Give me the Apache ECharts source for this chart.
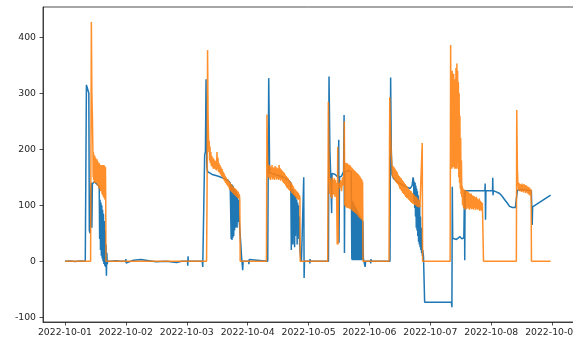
<!DOCTYPE html>
<html>
<head>
<meta charset="utf-8">
<script src="https://cdn.jsdelivr.net/npm/echarts@6/dist/echarts.min.js"></script>
<style>
  html, body { margin: 0; padding: 0; background: #fff; }
  #chart { width: 573px; height: 340px; }
</style>
</head>
<body>
<div id="chart"></div>
<script>
// Day labels on the x axis; x values are hours since 2022-10-01 00:00.
const dayLabels = ['2022-10-01', '2022-10-02', '2022-10-03', '2022-10-04', '2022-10-05',
                   '2022-10-06', '2022-10-07', '2022-10-08', '2022-10-09'];
const yTicks = [-100, 0, 100, 200, 300, 400];

// First signal: [hour, value]
const blueSeries = [
  [0,0],[2,0.5],[4,-0.5],[6,0.5],[8.0,0],[8.25,2],[8.45,315],[8.9,308],[9.4,300],[9.6,55],[9.9,50],
  [10.2,130],[10.45,140],[10.6,60],[10.8,138],[11.5,142],[12.5,138],[13.3,135],[13.5,130],
  [13.67,40],[13.83,110],[14.0,20],[14.17,105],[14.33,10],[14.5,100],[14.67,5],[14.83,92],[15.0,0],
  [15.17,85],[15.33,-5],[15.5,72],[15.67,-8],[15.83,55],[16.0,-10],[16.17,30],[16.33,-26],[16.5,15],
  [16.67,-5],[16.83,0],
  [18,0],[20,1],[22,0],[23.9,0],[24.0,4],[24.1,-3],[24.2,0],[27,2],[30,3],[33,1],[36,-1],[40,0],
  [44,-2],[46,0],[48.3,0],[48.4,-8],[48.5,9],[48.6,0],[52,0],[54.1,0],
  [54.3,-10],[54.9,-10],[55.05,190],[55.35,195],[55.6,325],[55.9,170],[56.2,160],[56.7,157],[58,155],
  [59.5,153],[61,151],[62.5,148],[64.2,145],[65.1,140],
  [65.3,140],[65.5,40],[65.67,138],[65.83,38],[66.0,136],[66.17,42],[66.33,134],[66.5,45],[66.67,130],
  [66.83,55],[67.0,128],[67.17,60],[67.33,125],[67.5,62],[67.67,122],[67.83,60],[68.0,118],[68.17,70],
  [68.33,110],[68.5,85],[69.0,50],[69.3,30],[69.6,8],[69.9,5],[70.05,-16],[70.2,0],
  [72.4,0],[72.5,-5],[72.6,3],[72.7,0],[79.9,0],
  [80.15,0],[80.3,327],[80.5,240],[80.65,158],[81,158],[82,156],[83,155],[84,153],[85,152],[86,150],
  [87,148],[88,145],[89,140],[89.2,20],[89.35,130],[89.5,40],[89.67,128],[89.83,30],[90.0,125],
  [90.17,50],[90.33,120],[90.5,25],[90.67,118],[90.83,45],[91.0,115],[91.17,55],[91.33,110],[91.5,30],
  [91.67,105],[91.83,50],[92.0,100],[92.17,40],[92.33,80],[92.5,30],[92.8,10],[93.2,0],[93.9,0],
  [94.1,150],[94.25,-30],[94.4,0],
  [96.4,0],[96.5,-4],[96.6,4],[96.7,0],[103.85,0],
  [104.06,330],[104.4,200],[104.7,157],[105.0,155],[105.1,86],[105.25,157],[105.6,158],[106,157],
  [106.5,155],[107,155],[107.6,150],[107.9,217],[108.0,33],[108.2,150],[109,152],[109.8,160],
  [110.0,261],[110.15,15],[110.3,160],[111,163],[112,162],[112.8,160],
  [112.9,110],[113.05,3],[113.2,108],[113.35,2],[113.5,106],[113.65,3],[113.8,104],[113.95,2],
  [114.1,100],[114.25,3],[114.4,98],[114.55,2],[114.7,95],[114.85,3],[115.0,92],[115.15,2],[115.3,90],
  [115.45,3],[115.6,86],[115.75,2],[115.9,83],[116.05,3],[116.2,80],[116.35,2],[116.5,78],[116.65,3],
  [116.8,76],[116.95,2],[117.1,74],[117.25,3],[117.4,72],[117.6,5],[118.0,3],[118.3,-10],[118.5,0],
  [120.4,0],[120.5,-4],[120.6,4],[120.7,0],[128.1,0],
  [128.35,328],[128.6,200],[128.9,155],[129.5,148],[130,146],[131,142],[132,139],[133,136],[134,134],
  [135,132],[136,130],[136.8,135],[137.2,150],[137.4,145],[137.55,105],[137.7,142],[137.85,95],
  [138.0,140],[138.15,80],[138.3,135],[138.45,60],[138.6,130],[138.75,55],[138.9,125],[139.05,45],
  [139.2,118],[139.35,35],[139.5,110],[139.65,30],[139.8,100],[139.95,25],[140.1,80],[140.25,20],
  [140.4,60],[140.55,15],[140.7,40],[140.85,10],[141.0,20],[141.3,8],[141.6,5],[141.75,-73],
  [145,-73],[150,-73],[152.3,-73],[152.5,-82],[152.65,133],[152.8,41],[153.5,43],[154.3,39],[155,42],
  [155.7,44],[156.4,40],[157.2,42],[157.45,127],[157.55,2],[157.7,126],[160,126],[163,126],[165.5,126],
  [165.6,139],[165.75,74],[165.9,126],[168.5,126],[168.6,149],[168.7,118],[168.85,126],[170,124],
  [171.3,121],[172.3,116],[173.3,110],[174.3,104],[175.2,98],[176.4,96],[177.5,96],[178.0,98],
  [178.3,127],[180,128],[182,127],[183.8,126],[184.0,124],[184.15,65],[184.3,97],[191.4,118]
];

// Second signal: [hour, value]
const orangeSeries = [
  [0,0],[10.1,0],[10.4,427],[10.6,300],[10.8,260],[11.0,200],[11.1,150],[11.2,195],[11.3,145],
  [11.45,190],[11.6,140],[11.75,188],[11.9,150],[12.05,185],[12.2,140],[12.35,180],[12.5,145],
  [12.65,182],[12.8,135],[12.95,178],[13.1,140],[13.25,176],[13.4,130],[13.55,175],[13.7,135],
  [13.85,172],[14.0,125],[14.15,172],[14.3,128],[14.45,170],[14.6,120],[14.75,172],[14.9,118],
  [15.05,170],[15.2,115],[15.35,172],[15.5,112],[15.65,170],[15.8,110],[15.95,168],[16.05,120],
  [16.15,0],
  [55.8,0],[56.0,120],[56.2,377],[56.4,260],[56.55,230],[56.7,195],[56.85,215],[57.0,180],[57.15,205],
  [57.3,175],[57.5,195],[57.7,170],[57.9,188],[58.1,168],[58.3,185],[58.5,165],[58.7,182],[58.9,166],
  [59.1,180],[59.3,164],[59.5,178],[59.7,162],[59.9,195],[60.1,165],[60.3,185],[60.5,160],[60.7,175],
  [60.9,158],[61.1,172],[61.3,155],[61.5,168],[61.7,152],[61.9,165],[62.1,150],[62.3,160],[62.5,146],
  [62.7,157],[62.9,143],[63.1,153],[63.3,140],[63.5,150],[63.7,137],[63.9,147],[64.1,135],[64.3,145],
  [64.5,132],[64.7,143],[64.9,128],[65.1,140],[65.3,126],[65.5,138],[65.7,124],[65.9,135],[66.1,122],
  [66.3,133],[66.5,120],[66.7,131],[66.9,118],[67.1,130],[67.3,116],[67.5,128],[67.7,115],[67.9,126],
  [68.1,113],[68.3,124],[68.5,112],[68.7,120],[68.9,110],[69.05,0],
  [79.4,0],[79.6,262],[79.8,190],[80.0,168],[80.2,150],[80.4,172],[80.6,148],[80.8,170],[81.0,145],
  [81.2,168],[81.4,150],[81.6,172],[81.8,146],[82.0,168],[82.2,148],[82.4,166],[82.6,145],[82.8,170],
  [83.0,150],[83.2,168],[83.4,146],[83.6,165],[83.8,148],[84.0,167],[84.2,145],[84.4,172],[84.6,147],
  [84.8,166],[85.0,144],[85.2,164],[85.4,146],[85.6,162],[85.8,142],[86.0,160],[86.2,140],[86.4,158],
  [86.6,138],[86.8,155],[87.0,135],[87.2,152],[87.4,132],[87.6,150],[87.8,130],[88.0,148],[88.2,128],
  [88.4,145],[88.6,126],[88.8,142],[89.0,125],[89.2,140],[89.4,122],[89.6,137],[89.8,120],[90.0,134],
  [90.2,118],[90.4,130],[90.6,116],[90.8,128],[91.0,114],[91.2,126],[91.4,112],[91.6,124],[91.8,110],
  [92.0,122],[92.2,110],[92.4,118],[92.6,112],[92.7,0],
  [103.55,0],[103.8,285],[104.0,200],[104.2,150],[104.4,120],[104.6,148],[104.8,115],[105.0,145],
  [105.2,112],[105.4,150],[105.6,118],[105.8,145],[106.0,120],[106.2,148],[106.4,115],[106.6,145],
  [106.8,120],[107.0,140],[107.3,30],[107.5,204],[107.65,30],[107.8,140],[108.2,130],[108.6,145],
  [109.0,125],[109.4,150],[109.8,135],[110.1,250],[110.25,100],[110.4,175],[110.55,98],[110.7,176],
  [110.85,96],[111.0,174],[111.15,97],[111.3,175],[111.45,95],[111.6,172],[111.75,96],[111.9,173],
  [112.05,94],[112.2,170],[112.35,95],[112.5,171],[112.65,93],[112.8,168],[112.95,94],[113.1,167],
  [113.25,90],[113.4,165],[113.55,91],[113.7,164],[113.85,88],[114.0,162],[114.15,88],[114.3,161],
  [114.45,86],[114.6,160],[114.75,85],[114.9,158],[115.05,84],[115.2,157],[115.35,82],[115.5,156],
  [115.65,80],[115.8,154],[115.95,79],[116.1,152],[116.25,77],[116.4,150],[116.55,76],[116.7,148],
  [116.85,74],[117.0,146],[117.15,74],[117.3,142],[117.45,0],
  [127.7,0],[128.0,293],[128.3,230],[128.6,190],[128.9,169],[129.1,150],[129.3,170],[129.5,148],
  [129.7,168],[129.9,145],[130.1,165],[130.3,142],[130.5,162],[130.7,140],[130.9,160],[131.1,138],
  [131.3,155],[131.5,135],[131.7,152],[131.9,130],[132.1,150],[132.3,128],[132.5,148],[132.7,125],
  [132.9,145],[133.1,122],[133.3,143],[133.5,120],[133.7,140],[133.9,118],[134.1,138],[134.3,115],
  [134.5,135],[134.7,113],[134.9,133],[135.1,112],[135.3,130],[135.5,110],[135.7,128],[135.9,108],
  [136.1,126],[136.3,106],[136.5,125],[136.7,104],[136.9,122],[137.1,103],[137.3,120],[137.5,102],
  [137.7,118],[137.9,100],[138.1,116],[138.3,100],[138.5,115],[138.7,98],[138.9,112],[139.1,97],
  [139.3,110],[139.5,96],[139.7,105],[139.9,97],[140.1,100],[140.6,97],[140.8,211],[140.95,0],
  [151.8,0],[152.0,386],[152.15,200],[152.3,336],[152.45,165],[152.6,340],[152.75,170],[152.9,330],
  [153.05,168],[153.2,335],[153.35,175],[153.5,325],[153.65,165],[153.8,320],[153.95,170],[154.1,345],
  [154.25,165],[154.45,353],[154.6,175],[154.75,340],[154.9,165],[155.05,320],[155.2,150],[155.35,300],
  [155.5,140],[155.65,260],[155.8,130],[155.95,220],[156.1,120],[156.25,180],[156.4,115],[156.55,135],
  [156.7,100],[156.9,130],[157.1,95],[157.3,128],[157.5,92],[157.7,127],[157.9,95],[158.1,125],
  [158.3,93],[158.5,126],[158.7,96],[158.9,124],[159.1,94],[159.3,122],[159.5,92],[159.7,120],
  [159.9,95],[160.1,121],[160.3,93],[160.5,118],[160.7,94],[160.9,117],[161.1,92],[161.3,116],
  [161.5,95],[161.7,114],[161.9,92],[162.1,115],[162.3,94],[162.5,112],[162.7,92],[162.9,110],
  [163.1,93],[163.3,112],[163.5,90],[163.7,108],[163.9,92],[164.1,106],[164.3,90],[164.5,104],
  [164.8,104],[164.95,0],
  [177.9,0],[178.05,270],[178.3,166],[178.5,140],[178.7,128],[178.9,140],[179.1,125],[179.3,138],
  [179.5,126],[179.7,137],[179.9,124],[180.1,139],[180.3,125],[180.5,136],[180.7,123],[180.9,138],
  [181.1,126],[181.3,135],[181.5,122],[181.7,136],[181.9,124],[182.1,134],[182.3,121],[182.5,133],
  [182.7,120],[182.9,132],[183.1,118],[183.3,130],[183.5,117],[183.7,128],[183.85,0],[191.4,0]
];

const dayTicks = dayLabels.map((_, i) => i * 24);
const font = { fontFamily: 'DejaVu Sans', fontSize: 9.3, color: '#262626' };

const chart = echarts.init(document.getElementById('chart'), null, { renderer: 'canvas' });
chart.setOption({
  animation: false,
  backgroundColor: '#ffffff',
  grid: {
    left: 43, top: 7, width: 533.5, height: 315,
    show: true, borderColor: '#222', borderWidth: 0.8,
    containLabel: false, outerBoundsMode: 'none'
  },
  xAxis: {
    type: 'value',
    min: -8.66, max: 201.6,
    splitLine: { show: false },
    axisLine: { show: true, onZero: false, lineStyle: { color: '#222', width: 0.8 } },
    axisTick: { show: true, inside: false, length: 3.5, customValues: dayTicks,
                lineStyle: { color: '#222', width: 0.8 } },
    axisLabel: Object.assign({ margin: 6, customValues: dayTicks, hideOverlap: false,
      formatter: v => dayLabels[Math.round(v / 24)] }, font)
  },
  yAxis: {
    type: 'value',
    min: -108.4, max: 454,
    splitLine: { show: false },
    axisLine: { show: true, onZero: false, lineStyle: { color: '#222', width: 0.8 } },
    axisTick: { show: true, inside: false, length: 3.5, customValues: yTicks,
                lineStyle: { color: '#222', width: 0.8 } },
    axisLabel: Object.assign({ margin: 7, customValues: yTicks }, font)
  },
  series: [
    {
      type: 'line', data: blueSeries, showSymbol: false, symbol: 'none',
      sampling: null, clip: true,
      lineStyle: { color: '#1f77b4', width: 1.5 }
    },
    {
      type: 'line', data: orangeSeries, showSymbol: false, symbol: 'none',
      sampling: null, clip: true,
      lineStyle: { color: '#ff7f0e', width: 1.5, opacity: 0.88 }
    }
  ]
});
</script>
</body>
</html>
